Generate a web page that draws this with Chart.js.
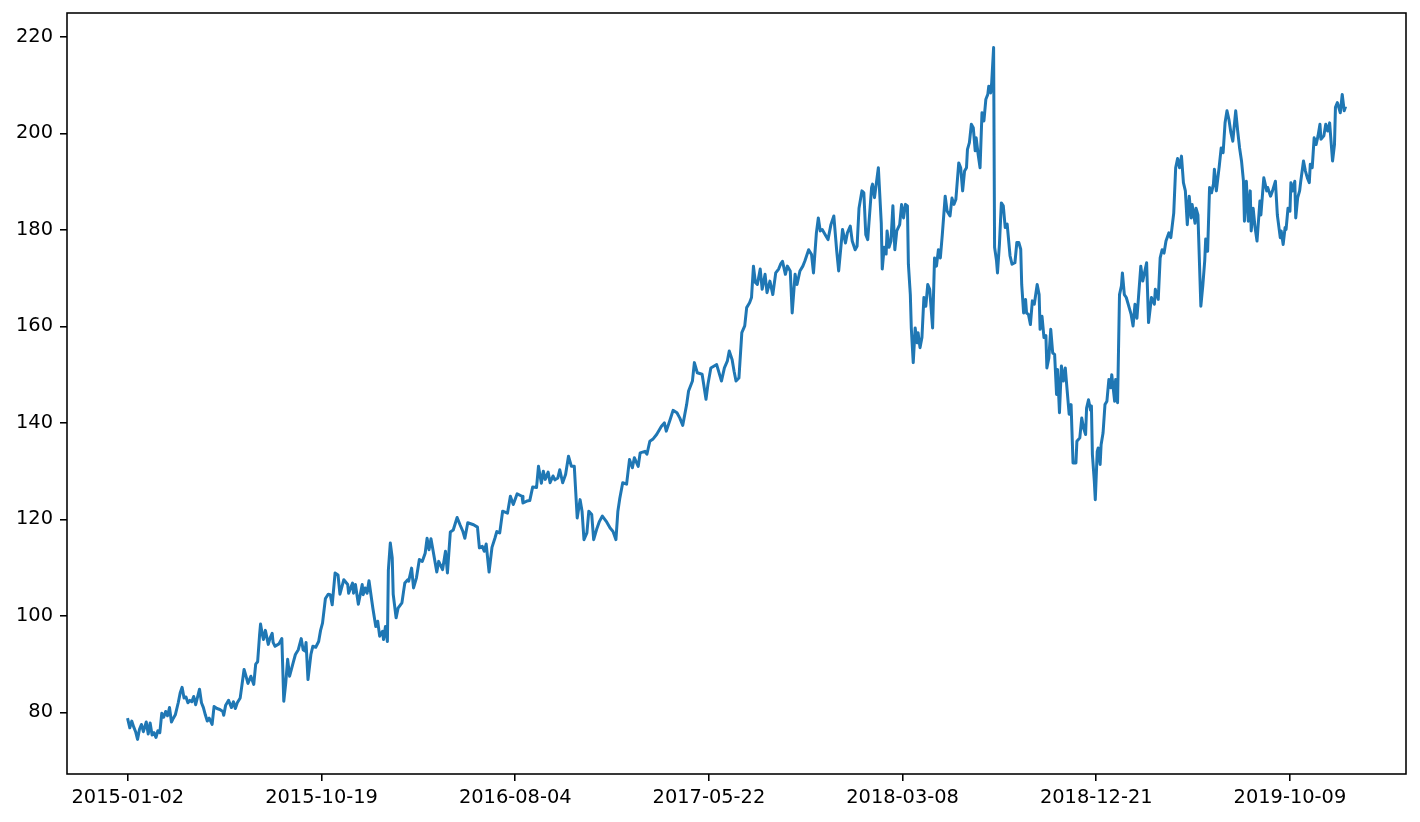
<!DOCTYPE html>
<html>
<head>
<meta charset="utf-8">
<title>Close price</title>
<script src="https://cdn.jsdelivr.net/npm/chart.js@4.4.1/dist/chart.umd.min.js"></script>
<style>
  html, body { margin: 0; padding: 0; background: #fff; }
  canvas { display: block; }
</style>
</head>
<body>
<canvas id="chart" width="1420" height="822"></canvas>
<script>
// Data (trading day number since 2015-01-02, close price)
const tradeDay = [
  0, 2, 4, 6, 8, 10, 12, 14, 16, 19,
  21, 23, 25, 27, 29, 31, 33, 35, 37, 39,
  41, 43, 45, 47, 49, 52, 54, 56, 58, 60,
  62, 64, 66, 68, 70, 72, 74, 76, 78, 80,
  82, 84, 87, 89, 92, 95, 98, 99, 101, 104,
  107, 109, 111, 113, 116, 120, 122, 124, 127, 130,
  132, 134, 136, 137, 139, 140, 142, 145, 147, 149,
  150, 152, 156, 159, 161, 163, 165, 167, 171, 173,
  176, 179, 181, 183, 184, 186, 189, 191, 194, 197,
  199, 201, 204, 207, 209, 211, 214, 217, 219, 223,
  227, 228, 232, 233, 235, 238, 242, 243, 245, 247,
  249, 252, 253, 256, 258, 260, 263, 264, 266, 268,
  269, 271, 273, 274, 277, 279, 283, 285, 286, 289,
  290, 293, 295, 298, 301, 304, 307, 309, 311, 313,
  315, 319, 321, 325, 328, 330, 333, 336, 340, 343,
  346, 348, 351, 357, 361, 363, 366, 368, 370, 373,
  376, 379, 381, 384, 387, 392, 395, 398, 402, 407,
  408, 412, 415, 418, 422, 424, 427, 429, 431, 434,
  436, 439, 441, 444, 446, 449, 452, 455, 458, 461,
  464, 467, 469, 471, 474, 476, 479, 481, 484, 487,
  490, 494, 498, 501, 504, 506, 508, 511, 515, 518,
  521, 523, 527, 529, 534, 536, 539, 542, 546, 551,
  554, 556, 560, 563, 567, 570, 573, 577, 579, 583,
  585, 588, 593, 597, 599, 602, 608, 613, 616, 619,
  621, 624, 626, 628, 631, 634, 637, 639, 642, 644,
  646, 648, 650, 653, 655, 658, 660, 663, 666, 669,
  672, 674, 676, 679, 681, 684, 686, 689, 691, 694,
  697, 699, 703, 706, 708, 711, 713, 715, 717, 721,
  723, 726, 729, 732, 734, 738, 741, 743, 746, 748,
  751, 753, 755, 758, 760, 762, 764, 768, 769, 771,
  773, 775, 778, 779, 781, 783, 784, 786, 788, 790,
  792, 794, 797, 799, 801, 803, 805, 806, 808, 809,
  811, 813, 815, 816, 818, 820, 822, 824, 826, 828,
  831, 833, 835, 837, 839, 841, 844, 846, 849, 851,
  853, 855, 858, 860, 862, 864, 866, 867, 869, 871,
  873, 875, 876, 878, 880, 882, 884, 886, 888, 889,
  891, 892, 894, 895, 897, 898, 900, 902, 904, 906,
  908, 911, 913, 916, 918, 920, 922, 923, 925, 927,
  928, 930, 932, 934, 936, 939, 941, 942, 944, 946,
  948, 949, 951, 953, 955, 957, 959, 960, 962, 964,
  966, 968, 970, 972, 974, 976, 979, 980, 983, 985,
  987, 989, 990, 992, 994, 995, 996, 998, 999, 1001,
  1002, 1004, 1005, 1007, 1009, 1011, 1013, 1015, 1016, 1019,
  1020, 1022, 1024, 1026, 1027, 1029, 1031, 1034, 1036, 1038,
  1040, 1042, 1046, 1048, 1052, 1054, 1057, 1060, 1061, 1064,
  1066, 1068, 1070, 1072, 1075, 1077, 1080, 1082, 1084, 1086,
  1088, 1090, 1092, 1094, 1096, 1098, 1099, 1102, 1103, 1105,
  1108, 1110, 1112, 1113, 1115, 1117, 1119, 1121, 1122, 1124,
  1127, 1129, 1131, 1133, 1135, 1137, 1139, 1141, 1144, 1146,
  1148, 1150, 1152, 1153, 1155, 1157, 1159, 1160, 1162, 1164,
  1166, 1169, 1170, 1173, 1176, 1177, 1180, 1182, 1185, 1187,
  1190, 1191, 1193, 1195, 1196, 1198, 1200, 1201, 1203, 1205,
  1206, 1208, 1210, 1211, 1214, 1216, 1218, 1220, 1221, 1223,
  1225, 1227, 1229, 1231, 1232, 1235, 1237, 1239, 1241, 1244,
  1246, 1247, 1249, 1252, 1254, 1256, 1257
];
const closePrice = [
  78.5, 76.8, 78.2, 77, 76, 74.4, 76.5, 77.5, 76, 78,
  75.5, 77.8, 75.3, 75.8, 74.8, 76.2, 75.8, 79.8, 79, 80.2,
  79.3, 81, 78, 78.8, 79.5, 82, 84, 85.2, 83, 83.2,
  82, 82.5, 82.2, 83.3, 81.6, 83.2, 84.8, 82, 81, 79.5,
  78.2, 78.8, 77.5, 81.2, 80.8, 80.6, 80.2, 79.4, 81.5, 82.5,
  81, 82.2, 80.8, 82, 83, 88.9, 87.5, 86, 87.5, 85.8,
  90, 90.5, 96, 98.3, 96, 95.1, 97, 94.1, 95.5, 96.4,
  94.5, 93.7, 94.2, 95.3, 82.3, 86, 91, 87.5, 90.5, 92,
  93, 95.3, 93, 92.7, 94.5, 86.8, 92, 93.7, 93.5, 94.7,
  97, 98.5, 103.6, 104.5, 104.4, 102.3, 108.9, 108.5, 104.5, 107.5,
  106.5, 104.7, 106.8, 104.7, 106.5, 102.4, 106.5, 104.4, 105.8, 104.7,
  107.3, 103, 101.6, 97.8, 98.9, 95.8, 96.8, 95.1, 97.8, 94.7,
  109.5, 115.1, 112, 104.5, 99.6, 101.6, 102.7, 105.5, 106.8, 107.5,
  107.2, 109.9, 105.8, 107.9, 111.7, 111.3, 113, 116.1, 113.7, 116,
  113.7, 109.1, 111.3, 109.6, 113.4, 108.9, 117.4, 117.8, 120.4, 118.9,
  117.5, 116.1, 119.3, 118.9, 118.4, 114.1, 114.4, 113.4, 114.9, 109.1,
  114.2, 116.1, 117.5, 117.2, 121.7, 121.3, 124.8, 123.1, 125.3, 124.8,
  123.4, 123.8, 123.9, 126.7, 126.6, 131, 127.5, 130, 128.3, 129.8,
  127.6, 129, 128.2, 128.6, 130.3, 127.6, 129.3, 133.1, 131, 131,
  120.3, 124.1, 121.7, 115.8, 117.2, 121.7, 121, 115.8, 117.9, 119.6,
  120.7, 119.6, 118.2, 117.5, 115.8, 121.7, 124.4, 127.6, 127.3, 132.4,
  130.7, 132.8, 131, 133.8, 134.1, 133.5, 136.2, 136.6, 137.6, 139.3,
  140, 138.3, 140.7, 142.6, 142.1, 141, 139.5, 143.8, 146.6, 148.7,
  152.5, 150.4, 150.1, 144.9, 148, 151.4, 152.1, 148.7, 151.4, 152.8,
  154.9, 153.1, 150.7, 148.7, 149.3, 158.7, 160.1, 163.9, 164.9, 166,
  172.5, 169.1, 168.7, 171.9, 167.7, 170.8, 167, 169.4, 166.6, 171.1,
  171.9, 172.9, 173.5, 170.8, 172.5, 171.5, 162.8, 170.8, 168.7, 171.5,
  172.5, 173.5, 175.9, 174.9, 171.1, 179.4, 182.5, 179.8, 180.1, 178.7,
  178, 181.1, 182.9, 175.6, 171.5, 180.1, 177.3, 179.4, 180.8, 177.7,
  175.9, 176.6, 184.5, 188.1, 187.7, 179, 178, 188.8, 189.5, 186.7,
  189.8, 192.9, 181.4, 171.9, 176.4, 175, 179.8, 176.4, 177.7, 185,
  175.9, 179.8, 181.1, 185.3, 182.5, 185.3, 185, 172.9, 166.6, 159.7,
  152.5, 159.7, 156.6, 158.7, 155.6, 157.7, 166, 164.2, 168.7, 167.7,
  159.7, 174.2, 172.5, 175.9, 174.2, 179, 187, 183.9, 182.9, 186.6,
  185.3, 186.3, 193.9, 192.9, 188.1, 192.2, 192.9, 196.7, 198.1, 201.9,
  201.2, 196.4, 199.1, 195.7, 192.9, 204.3, 202.6, 207.1, 208.1, 209.8,
  208.4, 210.5, 217.8, 176.4, 173.6, 171.1, 177, 185.6, 185, 180.5,
  181.2, 174.6, 172.9, 173.2, 177.4, 177.4, 176, 168.7, 162.8, 165.6,
  162.8, 162.5, 160.4, 165.3, 164.6, 168.7, 166.6, 159.4, 162.1, 157.7,
  158.1, 151.4, 153.4, 159.4, 154.5, 154.2, 145.9, 151.1, 142.1, 151.8,
  148.7, 151.4, 146.6, 141.8, 143.8, 131.7, 131.7, 136.2, 136.9, 141,
  138.9, 137.6, 143.1, 144.8, 142.7, 143.5, 133.5, 127.9, 124.1, 134.1,
  134.8, 131.4, 135.5, 137.9, 143.8, 144.5, 149, 147.3, 150, 144.5,
  149, 144.2, 166.6, 168.4, 171.1, 166.6, 166, 163.9, 162.5, 160.1,
  164.6, 161.7, 172.5, 169.4, 173.2, 160.8, 166, 164.6, 167.7, 165.6,
  174.2, 175.9, 175.2, 177.7, 179.4, 178.4, 183.5, 192.9, 194.8, 192.9,
  195.3, 189.8, 188.1, 181.1, 187, 182.5, 185.3, 181.4, 184.5, 183.1,
  164.2, 168.4, 173.6, 178.1, 175.6, 188.8, 187.7, 189.5, 192.6, 188.1,
  193.2, 197, 196, 202.2, 204.7, 202.9, 200.2, 198.4, 204.7, 200.6,
  197, 194.3, 190.1, 181.8, 190.1, 181.8, 188.1, 179.8, 184.5, 180.5,
  177.7, 186, 183.1, 190.8, 188.1, 188.8, 187, 188.1, 190.1, 183.1,
  178.4, 179.8, 177, 180.5, 180.1, 184.5, 183.9, 189.8, 188.1, 190.1,
  182.5, 186.7, 188.1, 189.8, 194.3, 192.2, 190.8, 189.8, 193.6, 192.9,
  199.1, 197.7, 199.5, 201.9, 198.8, 199.5, 201.9, 200.5, 202.2, 194.3,
  197.7, 205.4, 206.4, 204.3, 208.1, 204.7, 205.3
];

// Tick positions / labels
const xTickDays = [0, 200, 400, 600, 800, 1000, 1200];
const xTickLabels = ['2015-01-02', '2015-10-19', '2016-08-04', '2017-05-22', '2018-03-08', '2018-12-21', '2019-10-09'];
const yTicks = [80, 100, 120, 140, 160, 180, 200, 220];

const lastDay = 1257;
const yLo = Math.min(...closePrice), yHi = Math.max(...closePrice);

const FONT = { family: 'DejaVu Sans', size: 19.4 };
const SPINE = 1.56;

// frame around the plot area (matplotlib style box)
const frame = {
  id: 'frame',
  afterDraw(chart){
    const {ctx, chartArea: a} = chart;
    ctx.save();
    ctx.strokeStyle = '#000';
    ctx.lineWidth = SPINE;
    ctx.strokeRect(a.left, a.top, a.right - a.left, a.bottom - a.top);
    ctx.restore();
  }
};

const points = tradeDay.map((d, i) => ({x: d, y: closePrice[i]}));

new Chart(document.getElementById('chart').getContext('2d'), {
  type: 'line',
  data: {
    datasets: [{
      data: points,
      borderColor: '#1f77b4',
      borderWidth: 3,
      borderJoinStyle: 'round',
      borderCapStyle: 'square',
      pointRadius: 0,
      tension: 0,
      fill: false,
    }]
  },
  options: {
    responsive: false,
    animation: false,
    devicePixelRatio: 1,
    layout: { padding: { top: 13, right: 14, left: 0, bottom: 0 } },
    plugins: { legend: { display: false }, tooltip: { enabled: false } },
    scales: {
      x: {
        type: 'linear',
        min: -lastDay * 0.05,
        max: lastDay * 1.05,
        afterBuildTicks: s => { s.ticks = xTickDays.map(v => ({value: v})); },
        afterFit: s => { s.height = 48; s.paddingLeft = 0; s.paddingRight = 0; },
        border: { display: false },
        grid: { drawOnChartArea: false, drawTicks: true, tickLength: 7, tickColor: '#000', lineWidth: SPINE },
        ticks: {
          autoSkip: false, maxRotation: 0, padding: 5, color: '#000', font: FONT,
          callback: v => xTickLabels[xTickDays.indexOf(v)]
        }
      },
      y: {
        min: yLo - (yHi - yLo) * 0.05,
        max: yHi + (yHi - yLo) * 0.05,
        afterBuildTicks: s => { s.ticks = yTicks.map(v => ({value: v})); },
        afterFit: s => { s.width = 67; s.paddingTop = 0; s.paddingBottom = 0; },
        border: { display: false },
        grid: { drawOnChartArea: false, drawTicks: true, tickLength: 7, tickColor: '#000', lineWidth: SPINE },
        ticks: { padding: 7, color: '#000', font: FONT, callback: v => String(v) }
      }
    }
  },
  plugins: [frame]
});
</script>
</body>
</html>
